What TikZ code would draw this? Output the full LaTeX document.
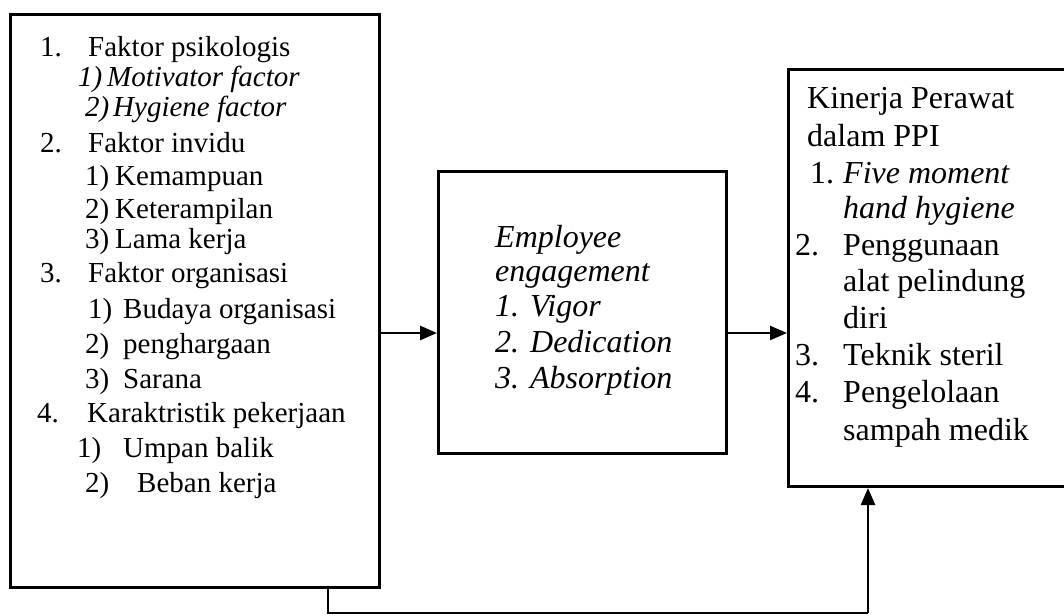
\documentclass[tikz,border=0pt]{standalone}
\usepackage{fontspec}
\setmainfont{Liberation Serif}
\usetikzlibrary{arrows.meta}

\tikzset{
  frame/.style={draw=black, line width=3pt, fill=none, inner sep=0pt, anchor=north west},
  conn/.style={draw=black, line width=2.6pt, -{Triangle[length=17pt,width=14pt]}},
  back/.style={draw=black, line width=2.2pt},
  lt/.style={anchor=base west, inner sep=0pt, font=\fontsize{29}{33}\selectfont},
  mt/.style={anchor=base west, inner sep=0pt, font=\fontsize{32}{36}\selectfont\itshape},
  rt/.style={anchor=base west, inner sep=0pt, font=\fontsize{32}{36}\selectfont},
}
% label of width #1 followed by the item text
\newcommand{\lbl}[2]{\makebox[#1pt][l]{#2}}

\begin{document}
\begin{tikzpicture}[x=1pt, y=-1pt]
\useasboundingbox (0,0) rectangle (1064,615);

% boxes
\node[frame, minimum width=369pt, minimum height=573pt] (left) at (9,13) {};
\node[frame, minimum width=288pt, minimum height=282pt] (mid) at (437,170) {};
\node[frame, minimum width=290pt, minimum height=417pt] (right) at (787,68) {};

% left box: factors
\node[lt] (l1)  at (40,57)  {\lbl{48}{1.}Faktor psikologis};
\node[lt] (l2)  at (78,87)  {\itshape\lbl{29}{1)}Motivator factor};
\node[lt] (l3)  at (85,117) {\itshape\lbl{28}{2)}Hygiene factor};
\node[lt] (l4)  at (40,152) {\lbl{48}{2.}Faktor invidu};
\node[lt] (l5)  at (85,185) {\lbl{30}{1)}Kemampuan};
\node[lt] (l6)  at (85,218) {\lbl{30}{2)}Keterampilan};
\node[lt] (l7)  at (85,248) {\lbl{30}{3)}Lama kerja};
\node[lt] (l8)  at (40,282) {\lbl{48}{3.}Faktor organisasi};
\node[lt] (l9)  at (88,318) {\lbl{35}{1)}Budaya organisasi};
\node[lt] (l10) at (85,353) {\lbl{38}{2)}penghargaan};
\node[lt] (l11) at (85,388) {\lbl{38}{3)}Sarana};
\node[lt] (l12) at (37,422) {\lbl{50}{4.}Karaktristik pekerjaan};
\node[lt] (l13) at (77,457) {\lbl{46}{1)}Umpan balik};
\node[lt] (l14) at (85,492) {\lbl{52}{2)}Beban kerja};

% middle box: engagement
\node[mt] (m1) at (495,247) {Employee};
\node[mt] (m2) at (495,281) {engagement};
\node[mt] (m3) at (495,316) {\lbl{35}{1.}Vigor};
\node[mt] (m4) at (495,352) {\lbl{35}{2.}Dedication};
\node[mt] (m5) at (495,388) {\lbl{35}{3.}Absorption};

% right box: performance
\node[rt] (r1)  at (807,109) {Kinerja Perawat};
\node[rt] (r2)  at (807,146) {dalam PPI};
\node[rt] (r3)  at (810,183) {\lbl{33}{1.}\itshape Five moment};
\node[rt] (r4)  at (843,218) {\itshape hand hygiene};
\node[rt] (r5)  at (795,255) {\lbl{48}{2.}Penggunaan};
\node[rt] (r6)  at (843,291) {alat pelindung};
\node[rt] (r7)  at (843,328) {diri};
\node[rt] (r8)  at (795,365) {\lbl{48}{3.}Teknik steril};
\node[rt] (r9)  at (795,402) {\lbl{48}{4.}Pengelolaan};
\node[rt] (r10) at (843,440) {sampah medik};

% connectors
\coordinate (ya) at (0,333);
\coordinate (yb) at (0,333);
\coordinate (fb1) at (328,613);
\coordinate (fb2) at (868,613);
\draw[conn] (left.east |- ya) -- (mid.west |- ya);
\draw[conn] (mid.east |- yb) -- (right.west |- yb);
\draw[back] (left.south -| fb1) -- (fb1) -- (fb2);
\draw[conn] (fb2) -- (right.south -| fb2);
\end{tikzpicture}
\end{document}
